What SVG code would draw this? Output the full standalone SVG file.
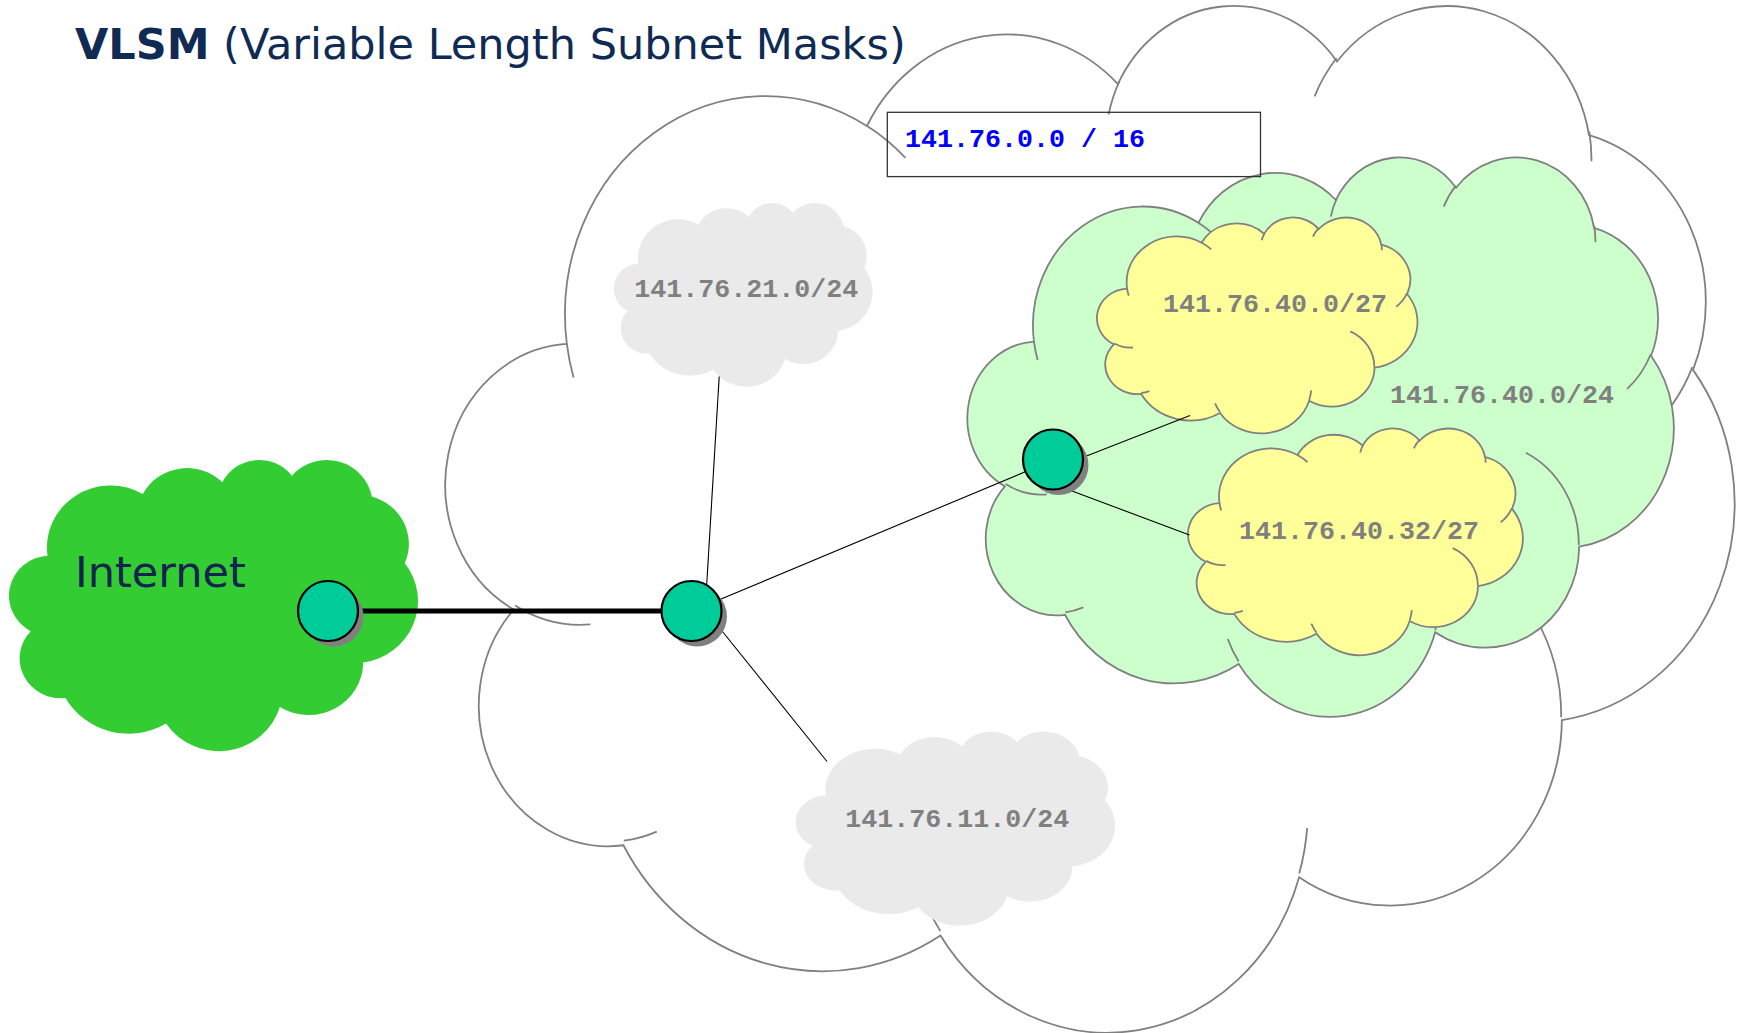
<svg xmlns="http://www.w3.org/2000/svg" xmlns:xlink="http://www.w3.org/1999/xlink" width="1743" height="1033" viewBox="0 0 1743 1033">
  <style>
    .c-white{fill:#ffffff;stroke:#808080;stroke-width:1.8}
    .c-green{fill:#ccffcc;stroke:#808080;stroke-width:1.8}
    .c-yellow{fill:#ffff99;stroke:#808080;stroke-width:1.8}
    .c-grey{fill:#eaeaea;stroke:none}
    .c-net{fill:#33cc33;stroke:none}
    .lbl{font-family:"Liberation Mono","Courier New",monospace;font-weight:bold;font-size:26.67px;fill:#808080;text-anchor:middle}
    .link{stroke:#000000;stroke-width:1.1;fill:none}
    .trunk{stroke:#000000;stroke-width:5;fill:none}
    .router-shadow{fill:#808080}
    .router{fill:#00cc99;stroke:#000000;stroke-width:2.2}
  </style>
  <defs>
    <!-- cloud outline in a 43200 x 43200 box; inner ribs are open arcs -->
    <symbol id="cloud" viewBox="0 0 43200 43200" preserveAspectRatio="none" overflow="visible">
      <path vector-effect="non-scaling-stroke" d="M3900 14370A6753 9190 0 0 1 14005 5202A5333 7267 0 0 1 22456 3437A4365 5945 0 0 1 29834 2488A4857 6595 0 0 1 38319 5583A5333 7273 0 0 1 41820 15467A6775 9220 0 0 1 37404 30208A5785 7867 0 0 1 28556 36818A6752 9215 0 0 1 16481 39271A7720 10543 0 0 1 5805 35475A4360 5918 0 0 1 2112 25555A4345 5945 0 0 1 3900 14370Z"/>
      <path vector-effect="non-scaling-stroke" fill="none" d="M4693 26177A4345 5945 0 0 1 2160 25381M6928 34899A4360 5918 0 0 1 5820 35281M16478 39090A6752 9215 0 0 1 15809 37348M28827 34751A6752 9215 0 0 1 28560 36661M34129 22954A5785 7867 0 0 1 37381 30090M41798 15354A5333 7273 0 0 1 40350 18030M38324 5426A4857 6595 0 0 1 38400 6690M29078 3952A4857 6595 0 0 1 29820 2339M22141 4720A4365 5945 0 0 1 22500 3330M14000 5192A6753 9190 0 0 1 15302 6543M4127 15789A6753 9190 0 0 1 3900 14370"/>
    </symbol>
  </defs>

  <!-- title -->
  <text x="75" y="59" font-family="DejaVu Sans, Verdana, sans-serif" font-size="43" fill="#0f2b54"><tspan font-weight="bold">VLSM</tspan> (Variable Length Subnet Masks)</text>

  <!-- address block 141.76.0.0/16 -->
  <g id="net-16">
    <use xlink:href="#cloud" href="#cloud" class="c-white" x="451" y="2.4" width="1283" height="1026.4"/>
  </g>

  <g id="subnet-21">
    <use xlink:href="#cloud" href="#cloud" class="c-grey" x="615" y="202.4" width="257.5" height="183.7"/>
    <text class="lbl" x="746.3" y="296.7">141.76.21.0/24</text>
  </g>

  <g id="subnet-11">
    <use xlink:href="#cloud" href="#cloud" class="c-grey" x="797" y="731" width="318" height="194"/>
    <text class="lbl" x="957.3" y="826.7">141.76.11.0/24</text>
  </g>

  <g id="subnet-40">
    <use xlink:href="#cloud" href="#cloud" class="c-green" x="970.5" y="155.5" width="703" height="559.3"/>
    <text class="lbl" x="1502" y="402.6">141.76.40.0/24</text>
  </g>

  <g id="subnet-40-0">
    <use xlink:href="#cloud" href="#cloud" class="c-yellow" x="1098.3" y="216.75" width="319" height="215.8"/>
    <text class="lbl" x="1275" y="312">141.76.40.0/27</text>
  </g>

  <g id="subnet-40-32">
    <use xlink:href="#cloud" href="#cloud" class="c-yellow" x="1189.4" y="427.7" width="333.3" height="226.7"/>
    <text class="lbl" x="1359" y="539">141.76.40.32/27</text>
  </g>

  <g id="internet">
    <use xlink:href="#cloud" href="#cloud" class="c-net" x="10.8" y="459" width="407" height="291"/>
    <text x="75" y="587" font-family="DejaVu Sans, Verdana, sans-serif" font-size="43" fill="#13244f">Internet</text>
  </g>

  <g id="net-16-label">
    <rect x="887.3" y="112.3" width="373.2" height="64.3" fill="none" stroke="#333333" stroke-width="1.3"/>
    <text x="905" y="146.5" font-family="Liberation Mono, Courier New, monospace" font-weight="bold" font-size="26.67" fill="#0000ff">141.76.0.0 / 16</text>
  </g>

  <!-- links -->
  <g id="connectors">
    <line class="trunk" x1="328" y1="611" x2="691.5" y2="611"/>
    <line class="link" x1="719.2" y1="376.5" x2="706.5" y2="588"/>
    <line class="link" x1="827" y1="761.5" x2="718" y2="626"/>
    <line class="link" x1="700" y1="607.8" x2="1045" y2="463.5"/>
    <line class="link" x1="1075" y1="460.5" x2="1190" y2="415.5"/>
    <line class="link" x1="1068" y1="489.5" x2="1189.5" y2="535"/>
  </g>

  <!-- routers -->
  <g id="router-a">
    <circle class="router-shadow" cx="333.5" cy="616.5" r="30"/>
    <circle class="router" cx="328" cy="611" r="30"/>
  </g>
  <g id="router-b">
    <circle class="router-shadow" cx="697" cy="616.5" r="30"/>
    <circle class="router" cx="691.5" cy="611" r="30"/>
  </g>
  <g id="router-c">
    <circle class="router-shadow" cx="1058.5" cy="465" r="30"/>
    <circle class="router" cx="1053" cy="459.5" r="30"/>
  </g>
</svg>
